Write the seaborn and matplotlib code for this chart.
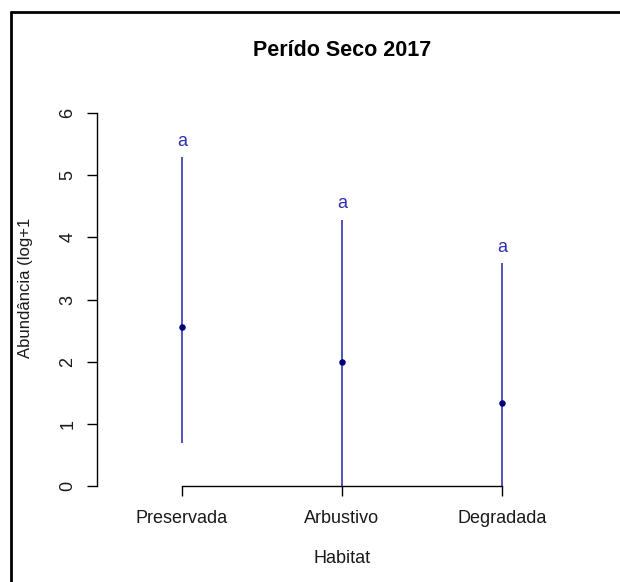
import matplotlib
matplotlib.use("Agg")
import matplotlib.pyplot as plt
from matplotlib.lines import Line2D
import seaborn as sns
import pandas as pd

# ─────────────────────────────────────────
#  DATA
# ─────────────────────────────────────────
habitats = ["Preservada", "Arbustivo", "Degradada"]
means    = [2.55, 1.99, 1.33]
lows     = [0.69, 0.00, 0.00]
highs    = [5.29, 4.28, 3.58]
letters  = ["a", "a", "a"]
y_ticks  = [0, 1, 2, 3, 4, 5, 6]

LINE_BLUE = "#3535b5"
DOT_BLUE  = "#00007a"
TEXT_BLUE = "#2f2fb0"

sns.set_theme(style="white")
plt.rcParams["font.family"] = ["Liberation Sans", "DejaVu Sans"]

df = pd.DataFrame({"pos": range(1, len(habitats) + 1),
                   "habitat": habitats, "mean": means,
                   "low": lows, "high": highs})

W, H = 620, 582
fig = plt.figure(figsize=(W / 100, H / 100), dpi=100)
fig.patch.set_facecolor("white")

# plot region in pixels (left, top, right, bottom)
L, T, R, B = 97, 98, 587, 486
ax = fig.add_axes([L / W, 1 - B / H, (R - L) / W, (B - T) / H])
ax.set_facecolor("white")

ax.vlines(df["pos"], df["low"], df["high"], color=LINE_BLUE, linewidth=1.2, zorder=2)
sns.scatterplot(data=df, x="pos", y="mean", ax=ax, color=DOT_BLUE,
                s=22, edgecolor=DOT_BLUE, linewidth=0, zorder=3)

for p, top, lab in zip(df["pos"], df["high"], letters):
    ax.annotate(lab, (p, top), xytext=(0, 11.5), textcoords="offset points",
                ha="center", va="center", fontsize=13, color=TEXT_BLUE)

ax.set_xlim(0.47, 3.53)
ax.set_ylim(0, (B - T) / ((B - 113) / 6))

for s in ["top", "right"]:
    ax.spines[s].set_visible(False)
for s in ["left", "bottom"]:
    ax.spines[s].set_color("black")
    ax.spines[s].set_linewidth(1.0)
ax.spines["left"].set_bounds(0, 6)
ax.spines["bottom"].set_bounds(1, 3)

ax.set_yticks(y_ticks)
ax.set_yticklabels([str(t) for t in y_ticks], rotation=90, va="center")
ax.set_xticks(df["pos"])
ax.set_xticklabels(habitats)
ax.tick_params(axis="both", which="major", direction="out", length=7,
               width=1.0, color="black", labelsize=13, labelcolor="#1a1a1a",
               bottom=True, left=True)
ax.tick_params(axis="x", pad=10)
ax.tick_params(axis="y", pad=8)
ax.grid(False)

ax.set_xlabel("Habitat", fontsize=13, color="#1a1a1a", labelpad=17)
ax.set_ylabel("Abundância (log+1", fontsize=12, color="#1a1a1a")
ax.yaxis.set_label_coords((33 - L) / (R - L), 0.51)

fig.text(342 / W, 1 - 50 / H, "Perído Seco 2017", ha="center", va="center",
         fontsize=15.5, fontweight="bold", color="black")

# outer frame (left and top edges visible in the crop)
fig.add_artist(Line2D([11 / W, 11 / W], [0, 1 - 12 / H], transform=fig.transFigure,
                      color="black", linewidth=2.0))
fig.add_artist(Line2D([11 / W, 1], [1 - 12 / H, 1 - 12 / H], transform=fig.transFigure,
                      color="black", linewidth=2.0))

fig.savefig("out.png", dpi=100, facecolor="white")
plt.close(fig)
